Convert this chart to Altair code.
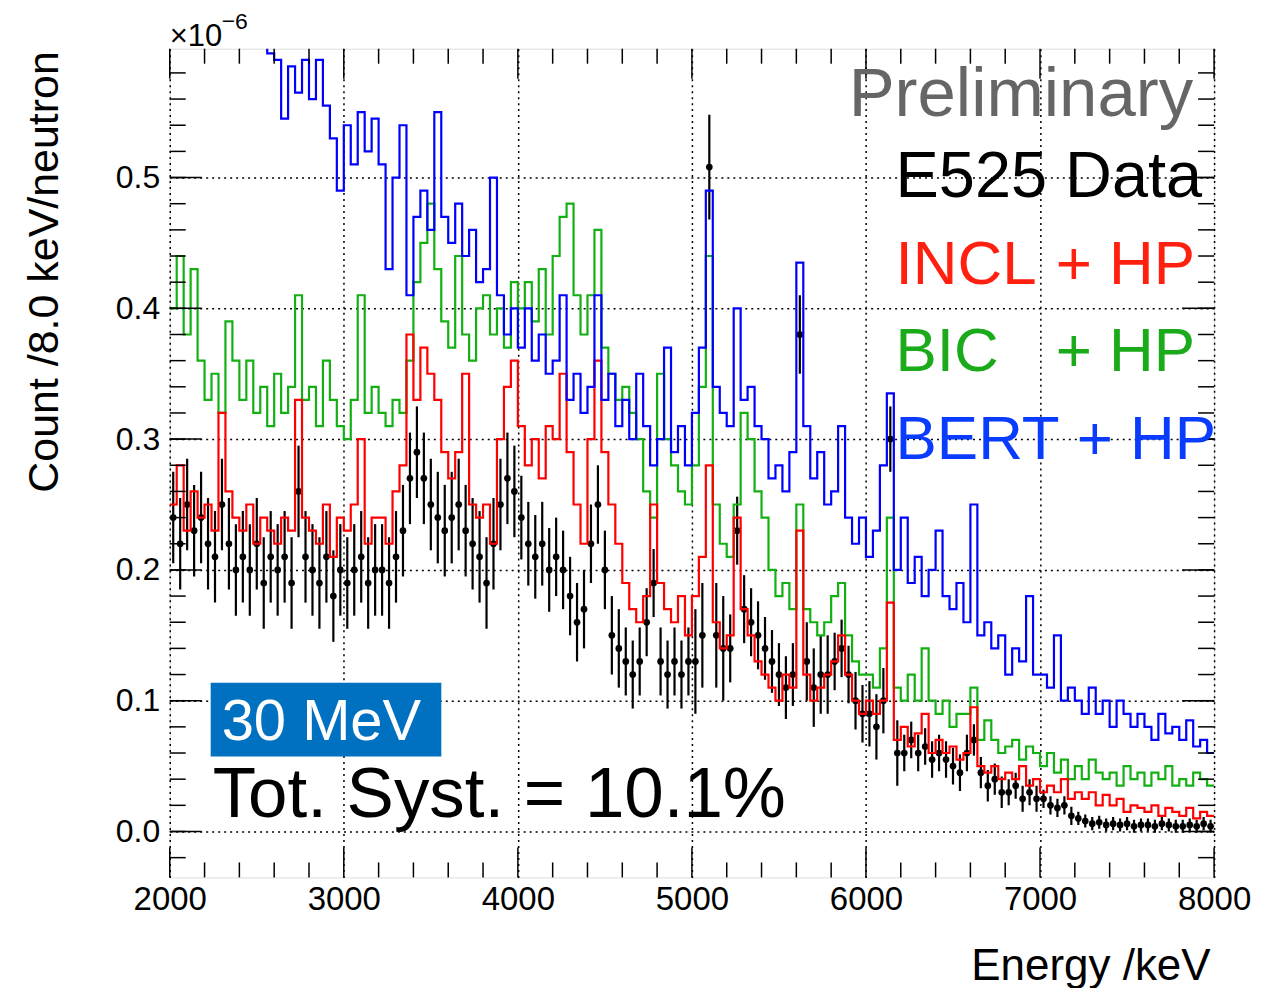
import altair as alt
import pandas as pd

# ---------------- data (values in units of 1e-6 count / 8 keV / neutron) -------------
bin_width_kev = 40
energy_lo = list(range(2000, 8000, bin_width_kev))   # 150 bins

bert_hp = [
    0.70, 0.68, 0.72, 0.69, 0.71,  0.70, 0.67, 0.69, 0.66, 0.68,  0.66, 0.64, 0.65, 0.63, 0.595,
    0.59, 0.545, 0.585, 0.565, 0.59,  0.56, 0.59, 0.555, 0.53, 0.49,  0.54, 0.51, 0.55, 0.52, 0.545,
    0.51, 0.43, 0.50, 0.54, 0.41,  0.47, 0.49, 0.46, 0.55, 0.47,  0.45, 0.48, 0.44, 0.46, 0.42,
    0.43, 0.50, 0.41, 0.38, 0.40,  0.37, 0.40, 0.36, 0.38, 0.35,  0.36, 0.41, 0.33, 0.35, 0.32,
    0.34, 0.41, 0.33, 0.35, 0.31,  0.33, 0.30, 0.35, 0.31, 0.28,  0.30, 0.37, 0.29, 0.31, 0.28,
    0.32, 0.37, 0.49, 0.34, 0.32,  0.31, 0.40, 0.33, 0.34, 0.31,  0.30, 0.27, 0.28, 0.26, 0.29,
    0.435, 0.31, 0.27, 0.29, 0.25,  0.26, 0.31, 0.24, 0.22, 0.24,  0.21, 0.23, 0.28, 0.335, 0.20,
    0.24, 0.19, 0.21, 0.18, 0.20,  0.23, 0.18, 0.17, 0.19, 0.16,  0.25, 0.15, 0.16, 0.14, 0.15,
    0.12, 0.14, 0.13, 0.18, 0.12,  0.12, 0.11, 0.15, 0.10, 0.11,  0.10, 0.09, 0.11, 0.09, 0.10,
    0.08, 0.10, 0.09, 0.08, 0.09,  0.08, 0.07, 0.09, 0.075, 0.08,  0.07, 0.085, 0.065, 0.07, 0.06,
]

bic_hp = [
    0.40, 0.44, 0.38, 0.43, 0.36,  0.33, 0.35, 0.32, 0.39, 0.36,  0.33, 0.36, 0.32, 0.34, 0.31,
    0.35, 0.32, 0.34, 0.41, 0.33,  0.34, 0.31, 0.36, 0.33, 0.31,  0.30, 0.33, 0.41, 0.32, 0.34,
    0.32, 0.31, 0.33, 0.32, 0.36,  0.42, 0.45, 0.48, 0.43, 0.39,  0.37, 0.44, 0.38, 0.36, 0.40,
    0.41, 0.38, 0.40, 0.37, 0.42,  0.40, 0.42, 0.39, 0.43, 0.38,  0.44, 0.47, 0.48, 0.41, 0.38,
    0.41, 0.46, 0.37, 0.35, 0.33,  0.34, 0.32, 0.30, 0.26, 0.24,  0.35, 0.30, 0.28, 0.26, 0.25,
    0.28, 0.34, 0.44, 0.25, 0.22,  0.21, 0.25, 0.32, 0.30, 0.26,  0.24, 0.20, 0.18, 0.19, 0.17,
    0.25, 0.17, 0.16, 0.15, 0.16,  0.18, 0.19, 0.15, 0.13, 0.12,  0.12, 0.11, 0.14, 0.24, 0.11,
    0.10, 0.12, 0.10, 0.14, 0.10,  0.09, 0.10, 0.08, 0.09, 0.09,  0.11, 0.07, 0.085, 0.07, 0.06,
    0.065, 0.07, 0.055, 0.065, 0.06,  0.05, 0.06, 0.045, 0.055, 0.04,  0.05, 0.04, 0.055, 0.045, 0.04,
    0.045, 0.035, 0.05, 0.04, 0.045,  0.035, 0.045, 0.04, 0.05, 0.035,  0.04, 0.035, 0.045, 0.04, 0.035,
]

incl_hp = [
    0.25, 0.28, 0.23, 0.26, 0.24,  0.25, 0.23, 0.32, 0.26, 0.24,  0.23, 0.25, 0.22, 0.24, 0.23,
    0.22, 0.24, 0.23, 0.33, 0.24,  0.23, 0.22, 0.25, 0.21, 0.24,  0.23, 0.25, 0.30, 0.22, 0.24,
    0.24, 0.22, 0.26, 0.28, 0.38,  0.33, 0.37, 0.35, 0.33, 0.29,  0.27, 0.29, 0.35, 0.25, 0.24,
    0.25, 0.22, 0.30, 0.34, 0.36,  0.31, 0.28, 0.30, 0.27, 0.31,  0.30, 0.35, 0.29, 0.25, 0.22,
    0.30, 0.36, 0.29, 0.25, 0.22,  0.19, 0.17, 0.16, 0.18, 0.25,  0.19, 0.17, 0.16, 0.18, 0.15,
    0.18, 0.21, 0.28, 0.16, 0.14,  0.15, 0.24, 0.17, 0.15, 0.13,  0.12, 0.11, 0.10, 0.12, 0.11,
    0.23, 0.12, 0.10, 0.11, 0.12,  0.13, 0.15, 0.12, 0.10, 0.09,  0.10, 0.09, 0.10, 0.175, 0.07,
    0.08, 0.065, 0.075, 0.09, 0.06,  0.07, 0.06, 0.065, 0.055, 0.06,  0.095, 0.05, 0.045, 0.05, 0.04,
    0.045, 0.04, 0.05, 0.035, 0.04,  0.03, 0.035, 0.03, 0.04, 0.025,  0.03, 0.025, 0.03, 0.02, 0.028,
    0.02, 0.025, 0.015, 0.02, 0.018,  0.015, 0.02, 0.012, 0.018, 0.015,  0.012, 0.018, 0.01, 0.015, 0.012,
]

e525_data = [
    0.24, 0.22, 0.25, 0.23, 0.24,  0.22, 0.21, 0.25, 0.22, 0.20,  0.21, 0.20, 0.22, 0.19, 0.21,
    0.20, 0.21, 0.19, 0.26, 0.21,  0.20, 0.19, 0.21, 0.18, 0.20,  0.19, 0.20, 0.21, 0.19, 0.20,
    0.20, 0.19, 0.21, 0.23, 0.27,  0.29, 0.27, 0.25, 0.24, 0.23,  0.24, 0.25, 0.23, 0.22, 0.21,
    0.19, 0.22, 0.25, 0.27, 0.26,  0.24, 0.22, 0.21, 0.22, 0.20,  0.21, 0.20, 0.18, 0.16, 0.17,
    0.22, 0.25, 0.20, 0.15, 0.14,  0.13, 0.12, 0.13, 0.16, 0.19,  0.13, 0.12, 0.13, 0.12, 0.13,
    0.13, 0.15, 0.508, 0.15, 0.14,  0.14, 0.23, 0.17, 0.16, 0.15,  0.14, 0.13, 0.12, 0.11, 0.12,
    0.38, 0.13, 0.11, 0.12, 0.12,  0.13, 0.14, 0.12, 0.10, 0.09,  0.09, 0.08, 0.10, 0.30, 0.06,
    0.06, 0.07, 0.06, 0.065, 0.055,  0.06, 0.055, 0.05, 0.045, 0.06,  0.07, 0.045, 0.035, 0.04, 0.03,
    0.03, 0.035, 0.025, 0.03, 0.025,  0.025, 0.02, 0.018, 0.02, 0.012,  0.01, 0.008, 0.006, 0.007, 0.005,
    0.006, 0.005, 0.006, 0.004, 0.005,  0.005, 0.004, 0.006, 0.005, 0.004,  0.004, 0.005, 0.004, 0.006, 0.004,
]

# statistical error of the data, read per 200 keV group
e525_err_per_200kev = [
    0.035, 0.035, 0.035, 0.035, 0.035, 0.035, 0.035, 0.035, 0.035, 0.035,
    0.032, 0.03, 0.03, 0.026, 0.026, 0.04, 0.026, 0.024, 0.03, 0.022,
    0.025, 0.014, 0.014, 0.012, 0.01, 0.007, 0.005, 0.005, 0.005, 0.005,
]

x_major_ticks = [2000, 3000, 4000, 5000, 6000, 7000, 8000]
x_minor_ticks = [e for e in range(2000, 8001, 200) if e % 1000 != 0]
y_major_ticks = [0.0, 0.1, 0.2, 0.3, 0.4, 0.5]
y_minor_ticks = [round(-0.02 + 0.02 * i, 2) for i in range(31)]

series = [
    ("BIC + HP", bic_hp, "#12b012"),
    ("INCL + HP", incl_hp, "#ff0000"),
    ("BERT + HP", bert_hp, "#0000ff"),
]

# ---------------- layout ----------------
W, H = 1046, 830
Y_DOMAIN = [-0.0351, 0.5985]
X_DOMAIN = [2000, 8000]
FONT = "Liberation Sans"
LFONT = "Liberation Sans"

xscale = alt.Scale(domain=X_DOMAIN, nice=False, zero=False)
yscale = alt.Scale(domain=Y_DOMAIN, nice=False, zero=False)

x_axis = alt.Axis(values=x_major_ticks, format="d", grid=True, gridDash=[2, 4], gridColor="black",
                  gridWidth=1.5, gridOpacity=1, domain=False, ticks=False, labelFontSize=33,
                  labelFont=FONT, labelColor="black", labelPadding=6, labelBaseline="top",
                  labelFlush=False, labelOverlap=False,
                  title="Energy /keV", titleFont=FONT, titleFontSize=44, titleFontWeight="normal",
                  titleColor="black", titleAlign="right", titleBaseline="alphabetic",
                  titleX=1042, titleY=102, titleAnchor="end")
y_axis = alt.Axis(values=y_major_ticks, format=".1f", grid=True, gridDash=[2, 4], gridColor="black",
                  gridWidth=1.5, gridOpacity=1, domain=False, ticks=False, labelFontSize=32,
                  labelFont=FONT, labelColor="black", labelPadding=10, labelFlush=False,
                  labelOverlap=False,
                  title="Count /8.0 keV/neutron", titleFont=FONT, titleFontSize=43,
                  titleFontWeight="normal", titleColor="black", titleAngle=270,
                  titleAlign="right", titleBaseline="alphabetic", titleX=-112, titleY=2)

X = alt.X("E:Q", scale=xscale, axis=x_axis, title="Energy /keV")
Y = alt.Y("v:Q", scale=yscale, axis=y_axis, title="Count /8.0 keV/neutron")

layers = []

# data points with error bars
groups_err = [e525_err_per_200kev[i // 5] for i in range(len(energy_lo))]
data_df = pd.DataFrame({
    "E": [e + bin_width_kev / 2 for e in energy_lo],
    "v": e525_data,
    "lo": [v - s for v, s in zip(e525_data, groups_err)],
    "hi": [v + s for v, s in zip(e525_data, groups_err)],
})
layers.append(alt.Chart(data_df).mark_rule(color="black", strokeWidth=2.2, clip=True).encode(
    x=X, y=alt.Y("lo:Q", scale=yscale, axis=y_axis, title="Count /8.0 keV/neutron"), y2="hi:Q"))
layers.append(alt.Chart(data_df).mark_circle(color="black", size=45, opacity=1, clip=True).encode(x=X, y=Y))

# model histograms (step lines)
for name, vals, col in series:
    df = pd.DataFrame({"E": energy_lo + [8000], "v": vals + [vals[-1]]})
    layers.append(alt.Chart(df).mark_line(interpolate="step-after", color=col, strokeWidth=2.2,
                                          clip=True).encode(x=X, y=Y))

# inward ticks (ROOT style) on all four sides
def yticks(vals, length, side):
    df = pd.DataFrame({"v": vals})
    if side == "left":
        xa, xb = 0, length
    else:
        xa, xb = W, W - length
    return alt.Chart(df).mark_rule(color="black", strokeWidth=1.5).encode(
        y=Y, x=alt.value(xa), x2=alt.value(xb))

def xticks(vals, length, side):
    df = pd.DataFrame({"E": vals})
    if side == "bottom":
        ya, yb = H, H - length
    else:
        ya, yb = 0, length
    return alt.Chart(df).mark_rule(color="black", strokeWidth=1.5).encode(
        x=X, y=alt.value(ya), y2=alt.value(yb))

layers += [
    yticks(y_major_ticks, 32, "left"), yticks(y_minor_ticks, 16, "left"),
    yticks(y_major_ticks, 32, "right"), yticks(y_minor_ticks, 16, "right"),
    xticks(x_major_ticks, 30, "bottom"), xticks(x_minor_ticks, 15, "bottom"),
    xticks(x_major_ticks, 30, "top"), xticks(x_minor_ticks, 15, "top"),
]

# annotations
def label(text, x, y, size, color="black", align="left", font=LFONT, weight="normal"):
    df = pd.DataFrame({"t": [text]})
    return alt.Chart(df).mark_text(align=align, baseline="alphabetic", fontSize=size, font=font,
                                   color=color, fontWeight=weight).encode(
        text="t:N", x=alt.value(x), y=alt.value(y))

box_df = pd.DataFrame({"t": ["30 MeV"]})
layers.append(alt.Chart(box_df).mark_rect(color="#0070c0").encode(
    x=alt.value(41), x2=alt.value(272), y=alt.value(635), y2=alt.value(709)))

layers += [
    label("\u00d710", 0, -3, 31, font=FONT),
    label("\u22126", 52, -20, 23, font=FONT),
    label("Preliminary", 1025, 67, 69, color="#666666", align="right"),
    label("E525 Data", 727, 149, 65),
    label("INCL", 727, 236, 62, color="#ff2010"),
    label("+ HP", 1027, 236, 62, color="#ff2010", align="right"),
    label("BIC", 727, 323, 62, color="#1aaa1a"),
    label("+ HP", 1027, 323, 62, color="#1aaa1a", align="right"),
    label("BERT", 727, 411, 62, color="#0a3cff"),
    label("+ HP", 1048, 411, 62, color="#0a3cff", align="right"),
    label("30 MeV", 52, 692, 58, color="white"),
    label("Tot. Syst. = 10.1%", 43, 770, 71),
]

chart = alt.layer(*layers).properties(
    width=W, height=H,
    autosize=alt.AutoSizeParams(type="none"),
    padding={"left": 162, "top": 40, "right": 50, "bottom": 110},
).configure_view(stroke="black", strokeWidth=2).configure(background="white")

chart.save("out.html", embed_options={"renderer": "svg", "actions": False})
